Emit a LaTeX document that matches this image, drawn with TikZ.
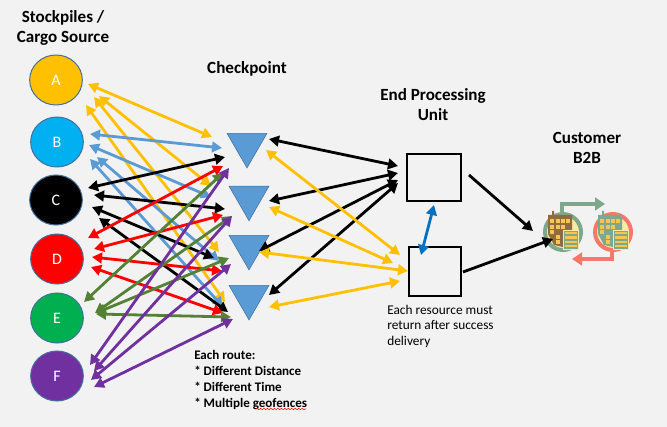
\documentclass[tikz,border=0pt]{standalone}
\usepackage{fontspec}
\setmainfont{Carlito}
\usetikzlibrary{arrows.meta}
\usetikzlibrary{shapes.geometric}
\usetikzlibrary{decorations.pathmorphing}
\definecolor{bggrey}{HTML}{F2F2F2}
\definecolor{gold}{HTML}{FFC000}
\definecolor{sky}{HTML}{00B0F0}
\definecolor{steel}{HTML}{5B9BD5}
\definecolor{edge}{HTML}{41719C}
\definecolor{leaf}{HTML}{00B050}
\definecolor{moss}{HTML}{548235}
\definecolor{plum}{HTML}{7030A0}
\definecolor{deepblue}{HTML}{0070C0}
\definecolor{sage}{HTML}{7DA88C}
\definecolor{salmon}{HTML}{F4786C}
\definecolor{cream}{HTML}{FBE9A8}
\definecolor{bark}{HTML}{8F6B3F}
\definecolor{pane}{HTML}{F6C64E}
\tikzset{
  source/.style={ellipse,draw=edge,line width=.75pt,minimum width=39.5pt,minimum height=37.5pt,inner sep=0pt,text=white,font=\fontsize{12}{12}\selectfont},
  check/.style={regular polygon,regular polygon sides=3,shape border rotate=180,fill=steel,draw=edge,line width=.4pt,minimum size=34.6pt,inner sep=0pt,outer sep=0pt},
  unitbox/.style={draw=black,line width=1.6pt,inner sep=0pt},
  head/.style={font=\fontsize{12.8}{15}\selectfont\bfseries,align=center},
  note/.style={font=\fontsize{10}{11.6}\selectfont,align=left,anchor=north west,inner sep=0pt},
  route/.style={line width=2.1pt,{Triangle[length=7.5pt,width=8pt]}-{Triangle[length=7.5pt,width=8pt]}},
  oneway/.style={line width=2.1pt,-{Triangle[length=7.5pt,width=8pt]}},
  loopback/.style={line width=3pt,-{Triangle[length=7.5pt,width=9.5pt]}},
  pics/city/.style n args={2}{code={
    \fill[#1] (-15,-17) -- (-11,-17) -- (-11,-21) -- (-9,-21) -- (-9,-17) -- (9,-17) -- (9,-2) -- (0,-2) -- (0,15) -- (-9,13) -- (-15,2) -- cycle;
    \foreach \wx/\wy in {-13/-13,-7.5/-13,-2/-13,3/-13,-13/-7,-7/-7,-2/-7,-13/-2,-7/3,-7/8}
      \fill[pane] (\wx,\wy) rectangle +(4,4);
    \fill[#2,draw=cream,line width=.4pt] (0,-2) rectangle (15,17);
    \foreach \wy in {0,4.5,9,13}
      \fill[pane] (2,\wy) rectangle +(12,2.4);
  }}
}
\begin{document}
\begin{tikzpicture}[x=.75pt,y=-.75pt]
  \fill[bggrey] (0,0) rectangle (667,427);
  \useasboundingbox (0,0) rectangle (667,427);

  \node[source,fill=gold] (A) at (56,80) {A};
  \node[source,fill=sky] (B) at (57,142) {B};
  \node[source,fill=black] (C) at (56,200) {C};
  \node[source,fill=red] (D) at (57,259) {D};
  \node[source,fill=leaf] (E) at (57,318) {E};
  \node[source,fill=plum] (F) at (57,376) {F};

  \node[check] (cpA) at (247,144.9) {};
  \node[check] (cpB) at (249,197.7) {};
  \node[check] (cpC) at (249,246.9) {};
  \node[check] (cpD) at (249,296.9) {};

  \node[unitbox,minimum width=40.5pt,minimum height=35.2pt] (unitA) at (434,177.5) {};
  \node[unitbox,minimum width=39pt,minimum height=36.8pt] (unitB) at (435,271.5) {};

  \node[head] (lblsrc) at (63,28) {Stockpiles /\\Cargo Source};
  \node[head] (lblchk) at (247,69) {Checkpoint};
  \node[head] (lblend) at (433,105) {End Processing\\Unit};
  \node[head] (lblcus) at (587,148) {Customer\\B2B};
  \node[note,font=\fontsize{9.8}{11.8}\selectfont\bfseries] (lblroute) at (194,350.5) {Each route:\\* Different Distance\\* Different Time\\* Multiple geofences};
  \node[note] (lblres) at (387,305) {Each resource must\\return after success\\delivery};
  \coordinate (wavyA) at (256,409);
  \coordinate (wavyB) at (306,409);
  \draw[red,line width=.4pt,decorate,decoration={snake,amplitude=.5pt,segment length=2.6pt}] (wavyA) -- (wavyB);

  % route ends, left side then checkpoint side
  \foreach \nm/\x/\y in {a1/88/84,a2/99/96,a3/94/97,a4/86/105,
    b1/90/134,b2/89/145,b3/97/157,b4/90/159,
    c1/88/188,c2/94/195,c3/92/207,c4/99/218,
    d1/88/238,d2/94/249,d3/92/257,d4/91/267,
    e1/84/302,e2/95/313,e3/96/313,e4/96/314,
    f1/90/365,f2/94/371,f3/91/380,f4/94/387,
    ta1/212/137,ta2/211/186,ta3/219/252,ta4/225/302,
    tb1/222/148,tb2/211/197,tb3/219/261,tb4/223/307,
    tc1/225/157,tc2/225/209,tc3/214/258,tc4/228/312,
    td1/223/166,td2/223/215,td3/222/271,td4/223/313,
    te1/223/173,te2/232/216,te3/229/258,te4/231/317,
    tf1/229/168,tf2/232/216,tf3/231/264,tf4/233/319}
    \coordinate (\nm) at (\x,\y);

  \foreach \src/\col in {a/gold,b/steel,c/black,d/red,e/moss,f/plum}
    \foreach \i in {1,2,3,4}
      \draw[route,\col] (\src\i) -- (t\src\i);

  % checkpoint to end processing
  \foreach \nm/\x/\y in {ka/269/139,kb/269/201,kc/259/251,kd/269/295,
    ua/398/166,ub/398/173,uc/398/180,ud/398/183,
    ya/266/150,yb/269/207,yc/259/252,yd/269/307,
    va/400/255,vb/393/263,vc/408/271,vd/400/281}
    \coordinate (\nm) at (\x,\y);
  \foreach \s/\t in {ka/ua,kb/ub,kc/uc,kd/ud}
    \draw[route,black] (\s) -- (\t);
  \foreach \s/\t in {ya/va,yb/vb,yc/vc,yd/vd}
    \draw[route,gold] (\s) -- (\t);

  \coordinate (linkA) at (434,205);
  \coordinate (linkB) at (421,255);
  \draw[route,deepblue] (linkA) -- (linkB);

  % customer
  \node[circle,draw=sage,fill=cream,line width=3pt,minimum size=27pt,inner sep=0pt] (custA) at (563,232) {};
  \node[circle,draw=salmon,fill=cream,line width=3pt,minimum size=27pt,inner sep=0pt] (custB) at (613,232) {};
  \pic at (custA) {city={bark}{sage}};
  \pic at (custB) {city={sage}{sage}};
  \coordinate (outA) at (469,175);
  \coordinate (outB) at (463,272);
  \coordinate (inA) at (533,231);
  \coordinate (inB) at (553,239);
  \draw[oneway,black] (outA) -- (inA);
  \draw[oneway,black] (outB) -- (inB);
  \draw[loopback,sage] (custA.north) ++(-1,0) |- (605,204);
  \draw[loopback,salmon] (custB.south) ++(-1,0) |- (572,259);
\end{tikzpicture}
\end{document}
